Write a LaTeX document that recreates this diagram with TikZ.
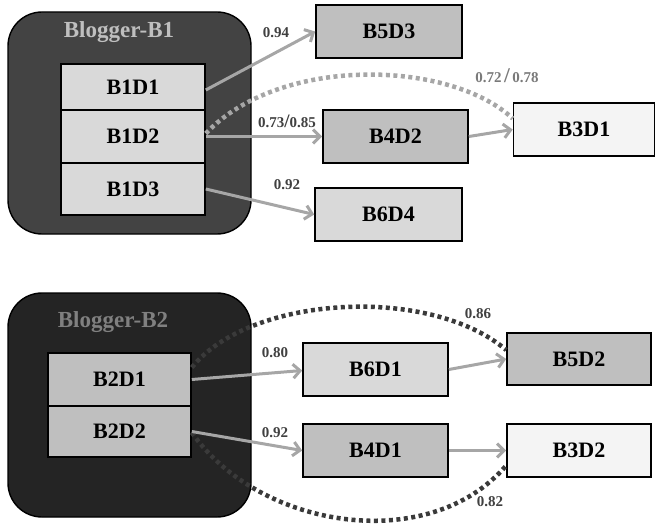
\documentclass[tikz,border=0pt]{standalone}
\usepackage{fontspec}
\setmainfont{Liberation Serif}
\usetikzlibrary{arrows.meta,calc}

\definecolor{boxlight}{HTML}{D9D9D9}
\definecolor{boxmid}{HTML}{BFBFBF}
\definecolor{boxwhite}{HTML}{F4F4F4}
\definecolor{groupone}{HTML}{434343}
\definecolor{grouptwo}{HTML}{242424}
\definecolor{linkgray}{HTML}{A6A6A6}
\definecolor{dotdark}{HTML}{3A3A3A}
\definecolor{labeldark}{HTML}{404040}
\definecolor{labelgray}{HTML}{7A7A7A}

\tikzset{
  doc/.style={draw=black, line width=1.6pt, minimum height=53pt, inner sep=0pt,
              font=\fontsize{22}{24}\selectfont\bfseries},
  group/.style={draw=black, line width=1.4pt, rounded corners=34pt},
  title/.style={font=\fontsize{23}{25}\selectfont\bfseries},
  link/.style={draw=linkgray, line width=3pt,
               -{Straight Barb[length=7pt,width=14pt,line width=3pt]}},
  dotlink/.style={line width=4.5pt, dash pattern=on 4pt off 3.5pt},
  weight/.style={font=\fontsize{15}{17}\selectfont\bfseries, text=labeldark, inner sep=0pt},
}

\begin{document}
\begin{tikzpicture}[x=1pt,y=-1pt]
\useasboundingbox (0,0) rectangle (656,524);

% blogger groups
\draw[group, fill=groupone] (8,12) rectangle (251,234);
\node[title, text=boxmid] (t1) at (119,32) {Blogger-B1};
\draw[group, fill=grouptwo] (8,293) rectangle (251,517);
\node[title, text=gray] (t2) at (113,322) {Blogger-B2};

% documents of B1
\node[doc, fill=boxlight, minimum width=144pt, minimum height=46pt] (b1d1) at (133,87) {B1D1};
\node[doc, fill=boxlight, minimum width=144pt, minimum height=53pt] (b1d2) at (133,136.5) {B1D2};
\node[doc, fill=boxlight, minimum width=144pt, minimum height=52pt] (b1d3) at (133,189) {B1D3};

\node[doc, fill=boxmid, minimum width=146pt] (b5d3) at (389,31.5) {B5D3};
\node[doc, fill=boxmid, minimum width=145pt] (b4d2) at (395.5,136.5) {B4D2};
\node[doc, fill=boxwhite, minimum width=141pt] (b3d1) at (584,129.5) {B3D1};
\node[doc, fill=boxlight, minimum width=147pt] (b6d4) at (388.5,214.5) {B6D4};

% documents of B2
\node[doc, fill=boxmid, minimum width=143pt, minimum height=53pt] (b2d1) at (119.5,379.5) {B2D1};
\node[doc, fill=boxmid, minimum width=143pt, minimum height=51pt] (b2d2) at (119.5,431.5) {B2D2};

\node[doc, fill=boxlight, minimum width=145pt] (b6d1) at (375.5,369.5) {B6D1};
\node[doc, fill=boxmid, minimum width=144pt, minimum height=52pt] (b5d2) at (579,359) {B5D2};
\node[doc, fill=boxmid, minimum width=145pt] (b4d1) at (375.5,450.5) {B4D1};
\node[doc, fill=boxwhite, minimum width=144pt] (b3d2) at (579,450.5) {B3D2};

% dotted indirect links
\draw[dotlink, draw=linkgray] ($(b1d2.east)+(0,-3)$) .. controls (280,55) and (450,60) .. ($(b3d1.west)+(0,-11)$);
\draw[dotlink, draw=dotdark] ($(b2d1.east)+(0,-12)$) .. controls (250,295) and (430,285) .. ($(b5d2.west)+(0,-9)$);
\draw[dotlink, draw=dotdark] ($(b2d2.east)+(0,1)$) .. controls (260,530) and (430,555) .. ($(b3d2.west)+(0,15)$);

% direct links
\draw[link] ($(b1d1.east)+(0,3)$) -- (b5d3.west);
\draw[link] (b1d2.east) -- (b4d2.west);
\draw[link] (b1d3.east) -- (b6d4.west);
\draw[link] (b4d2.east) -- (b3d1.west);
\draw[link] (b2d1.east) -- ($(b6d1.west)+(0,1)$);
\draw[link] (b2d2.east) -- (b4d1.west);
\draw[link] (b6d1.east) -- (b5d2.west);
\draw[link] (b4d1.east) -- (b3d2.west);

% similarity weights
\node[weight] (w1) at (276,33) {0.94};
\node[weight] (w2) at (287,121) {0.73{\fontsize{19}{19}\selectfont/}0.85};
\node[weight] (w3) at (287,185) {0.92};
\node[weight, text=labelgray] (w4) at (507,76) {0.72\,{\fontsize{21}{21}\selectfont/}\,0.78};
\node[weight] (w5) at (275,353) {0.80};
\node[weight] (w6) at (275,433) {0.92};
\node[weight] (w7) at (478,314) {0.86};
\node[weight] (w8) at (490,502) {0.82};
\end{tikzpicture}
\end{document}
